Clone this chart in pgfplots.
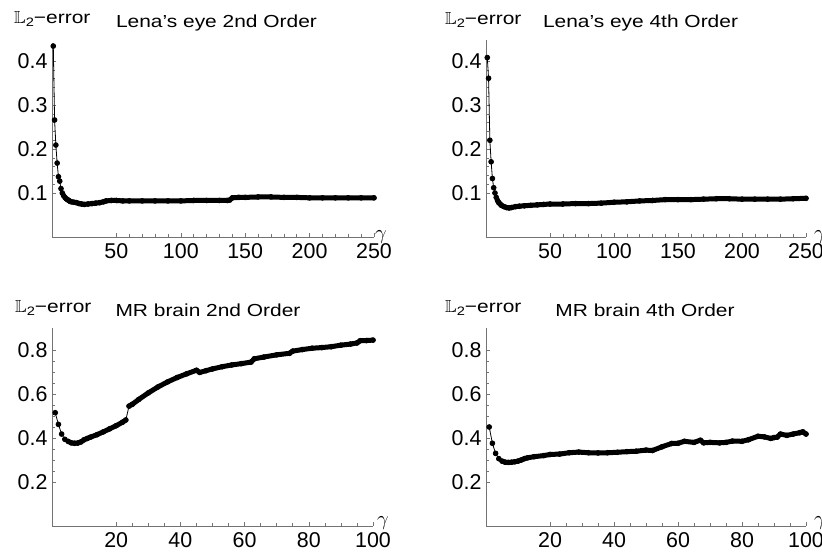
\documentclass[border=0pt]{standalone}
\usepackage{amssymb}
\usepackage{pgfplots}
\pgfplotsset{compat=1.18}
\usepackage{fontspec}
\setmainfont{Liberation Sans}
\newfontfamily\titlefont{Liberation Sans}[FakeStretch=1.2]

\newcommand{\errlabel}{{\titlefont\fontsize{17.5}{18}\selectfont$\mathbb{L}$\textsubscript{2}\kern-0.5pt−error}}

\pgfplotsset{
  mma/.style={
    scale only axis,
    axis lines=left,
    axis line style={-, black!55, line width=0.8bp},
    every tick/.style={black!55, line width=0.6bp},
    major tick length=4bp, minor tick length=2.5bp,
    tick align=inside,
    enlargelimits=false,
    xmin=0, ymin=0,
    clip=false,
    tick label style={font=\fontsize{21.5}{21.5}\selectfont},
    /pgf/number format/assume math mode=true,
    yticklabel style={/pgf/number format/fixed, /pgf/number format/precision=1,
      /pgf/number format/fixed zerofill, xshift=-1bp},
    xticklabel style={inner sep=1.5bp, yshift=-5bp},
  },
  head/.style={black, line width=0.8bp, mark=*, mark size=2.4bp},
  band/.style={black, line width=5bp, line join=round, line cap=round, unbounded coords=jump},
  lena/.style={mma, width=322bp, xmax=250, xtick={50,100,...,250}, minor x tick num=4,
    ytick={0.1,0.2,0.3,0.4}, minor y tick num=4},
  brain/.style={mma, width=321bp, height=198bp, xmax=100, ymax=0.9, xtick={20,40,...,100}, minor x tick num=3,
    ytick={0.2,0.4,0.6,0.8}, minor y tick num=3},
}

\begin{document}
\begin{tikzpicture}[x=1bp,y=1bp]
\useasboundingbox (0,0) rectangle (822,552);

% Lena's eye, 2nd order
\begin{axis}[lena, at={(52bp,315bp)}, anchor=south west, height=194bp, ymax=0.441]
\addplot[head] coordinates {
(1,0.434) (2,0.266) (3,0.209) (4,0.168) (5,0.137) (6,0.127) (7,0.110) (8,0.100)
(9,0.094) (10,0.090) (11,0.087) (12,0.085) (13,0.083) (14,0.081) (15,0.080)
(17,0.079) (19,0.078) (21,0.076) (23,0.075) (25,0.074) (28,0.075) (31,0.076)
(34,0.077) (37,0.078) (40,0.080) (42,0.082) (46,0.083) (50,0.083) (55,0.082)
(60,0.082) (70,0.082) (80,0.082) (90,0.082) (100,0.082) (110,0.083) (120,0.083)
(130,0.083) (136,0.083) (138,0.084) (140,0.089) (145,0.090) (150,0.090) (160,0.091)
(170,0.091) (180,0.090) (190,0.090) (200,0.089) (210,0.089) (220,0.089) (230,0.089)
(240,0.089) (250,0.089)
};
\addplot[band] coordinates {
(11,0.087) (12,0.085) (13,0.083) (14,0.081) (15,0.080)
(17,0.079) (19,0.078) (21,0.076) (23,0.075) (25,0.074) (28,0.075) (31,0.076)
(34,0.077) (37,0.078) (40,0.080) (42,0.082) (46,0.083) (50,0.083) (55,0.082)
(60,0.082) (70,0.082) (80,0.082) (90,0.082) (100,0.082) (110,0.083) (120,0.083)
(130,0.083) (136,0.083) (138,0.084) (140,0.089) (145,0.090) (150,0.090) (160,0.091)
(170,0.091) (180,0.090) (190,0.090) (200,0.089) (210,0.089) (220,0.089) (230,0.089)
(240,0.089) (250,0.089)
};
\end{axis}

% Lena's eye, 4th order
\begin{axis}[lena, at={(486bp,315bp)}, anchor=south west, width=320bp, height=197bp, ymax=0.448]
\addplot[head] coordinates {
(1,0.408) (2,0.361) (3,0.220) (4,0.171) (5,0.133) (6,0.112) (7,0.100) (8,0.090)
(9,0.083) (10,0.078) (11,0.075) (12,0.072) (14,0.069) (16,0.067) (18,0.066)
(20,0.067) (23,0.069) (26,0.070) (30,0.071) (35,0.072) (40,0.073) (45,0.074)
(50,0.075) (60,0.075) (70,0.076) (80,0.076) (90,0.077) (100,0.079) (110,0.080)
(120,0.082) (130,0.083) (140,0.085) (150,0.085) (160,0.085) (170,0.086) (180,0.087)
(190,0.087) (200,0.086) (210,0.086) (220,0.086) (230,0.086) (240,0.087) (250,0.088)
};
\addplot[band] coordinates {
(9,0.083) (10,0.078) (11,0.075) (12,0.072) (14,0.069) (16,0.067) (18,0.066)
(20,0.067) (23,0.069) (26,0.070) (30,0.071) (35,0.072) (40,0.073) (45,0.074)
(50,0.075) (60,0.075) (70,0.076) (80,0.076) (90,0.077) (100,0.079) (110,0.080)
(120,0.082) (130,0.083) (140,0.085) (150,0.085) (160,0.085) (170,0.086) (180,0.087)
(190,0.087) (200,0.086) (210,0.086) (220,0.086) (230,0.086) (240,0.087) (250,0.088)
};
\end{axis}

% MR brain, 2nd order
\begin{axis}[brain, at={(52bp,26bp)}, anchor=south west]
\addplot[head] coordinates {
(1,0.515) (2,0.462) (3,0.418) (4,0.394) (5,0.385) (6,0.378) (7,0.376) (8,0.377)
(9,0.382) (10,0.392) (11,0.398) (12,0.404) (14,0.415) (16,0.428) (18,0.442)
(20,0.456) (22,0.472) (23,0.482) (24,0.545) (25,0.553) (27,0.575) (30,0.605)
(33,0.632) (36,0.655) (39,0.675) (42,0.692) (45,0.708) (46,0.698) (48,0.706)
(50,0.714) (53,0.724) (56,0.732) (59,0.738) (62,0.745) (63,0.760) (66,0.768)
(70,0.778) (74,0.785) (75,0.795) (78,0.802) (81,0.808) (84,0.811) (87,0.815)
(90,0.822) (93,0.827) (95,0.832) (96,0.842) (98,0.843) (100,0.845)
};
\addplot[band] coordinates {
(5,0.385) (6,0.378) (7,0.376) (8,0.377)
(9,0.382) (10,0.392) (11,0.398) (12,0.404) (14,0.415) (16,0.428) (18,0.442)
(20,0.456) (22,0.472) (23,0.482) (23.5,nan) (24,0.545) (25,0.553) (27,0.575) (30,0.605)
(33,0.632) (36,0.655) (39,0.675) (42,0.692) (45,0.708) (46,0.698) (48,0.706)
(50,0.714) (53,0.724) (56,0.732) (59,0.738) (62,0.745) (63,0.760) (66,0.768)
(70,0.778) (74,0.785) (75,0.795) (78,0.802) (81,0.808) (84,0.811) (87,0.815)
(90,0.822) (93,0.827) (95,0.832) (96,0.842) (98,0.843) (100,0.845)
};
\end{axis}

% MR brain, 4th order
\begin{axis}[brain, at={(486bp,26bp)}, anchor=south west, width=320bp]
\addplot[head] coordinates {
(1,0.450) (2,0.376) (3,0.330) (4,0.306) (5,0.295) (6,0.290) (7,0.289) (8,0.290)
(9,0.292) (10,0.295) (11,0.300) (12,0.306) (13,0.310) (15,0.315) (18,0.320)
(20,0.325) (23,0.327) (26,0.333) (29,0.336) (32,0.333) (35,0.332) (38,0.333)
(41,0.335) (44,0.338) (47,0.340) (50,0.345) (52,0.343) (55,0.360) (58,0.375)
(60,0.376) (62,0.385) (65,0.380) (67,0.390) (68,0.378) (70,0.380) (73,0.378)
(75,0.380) (77,0.386) (80,0.385) (82,0.392) (85,0.408) (87,0.405) (89,0.398)
(90,0.402) (91,0.404) (92,0.418) (94,0.412) (96,0.418) (98,0.424) (99,0.428) (100,0.418)
};
\addplot[band] coordinates {
(5,0.295) (6,0.290) (7,0.289) (8,0.290)
(9,0.292) (10,0.295) (11,0.300) (12,0.306) (13,0.310) (15,0.315) (18,0.320)
(20,0.325) (23,0.327) (26,0.333) (29,0.336) (32,0.333) (35,0.332) (38,0.333)
(41,0.335) (44,0.338) (47,0.340) (50,0.345) (52,0.343) (55,0.360) (58,0.375)
(60,0.376) (62,0.385) (65,0.380) (67,0.390) (68,0.378) (70,0.380) (73,0.378)
(75,0.380) (77,0.386) (80,0.385) (82,0.392) (85,0.408) (87,0.405) (89,0.398)
(90,0.402) (91,0.404) (92,0.418) (94,0.412) (96,0.418) (98,0.424) (99,0.428) (100,0.418)
};
\end{axis}

% labels and titles
\begin{scope}[every node/.style={inner sep=0pt}]
\node[anchor=base west] at (14,528) {\errlabel};
\node[anchor=base] at (216.5,524) {\titlefont\fontsize{17.5}{18}\selectfont Lena’s eye 2nd Order};
\node[anchor=base west] at (445,527) {\errlabel};
\node[anchor=base] at (640.5,524) {\titlefont\fontsize{17.5}{18}\selectfont Lena’s eye 4th Order};
\node[anchor=base west] at (15,239) {\errlabel};
\node[anchor=base] at (208,235) {\titlefont\fontsize{17.5}{18}\selectfont MR brain 2nd Order};
\node[anchor=base west] at (445,239) {\errlabel};
\node[anchor=base] at (645,235) {\titlefont\fontsize{17.5}{18}\selectfont MR brain 4th Order};
\node at (381,314.5) {\fontsize{20}{20}\selectfont$\gamma$};
\node at (820,314.5) {\fontsize{20}{20}\selectfont$\gamma$};
\node at (383,29) {\fontsize{20}{20}\selectfont$\gamma$};
\node at (820,29) {\fontsize{20}{20}\selectfont$\gamma$};
\end{scope}
\end{tikzpicture}
\end{document}
